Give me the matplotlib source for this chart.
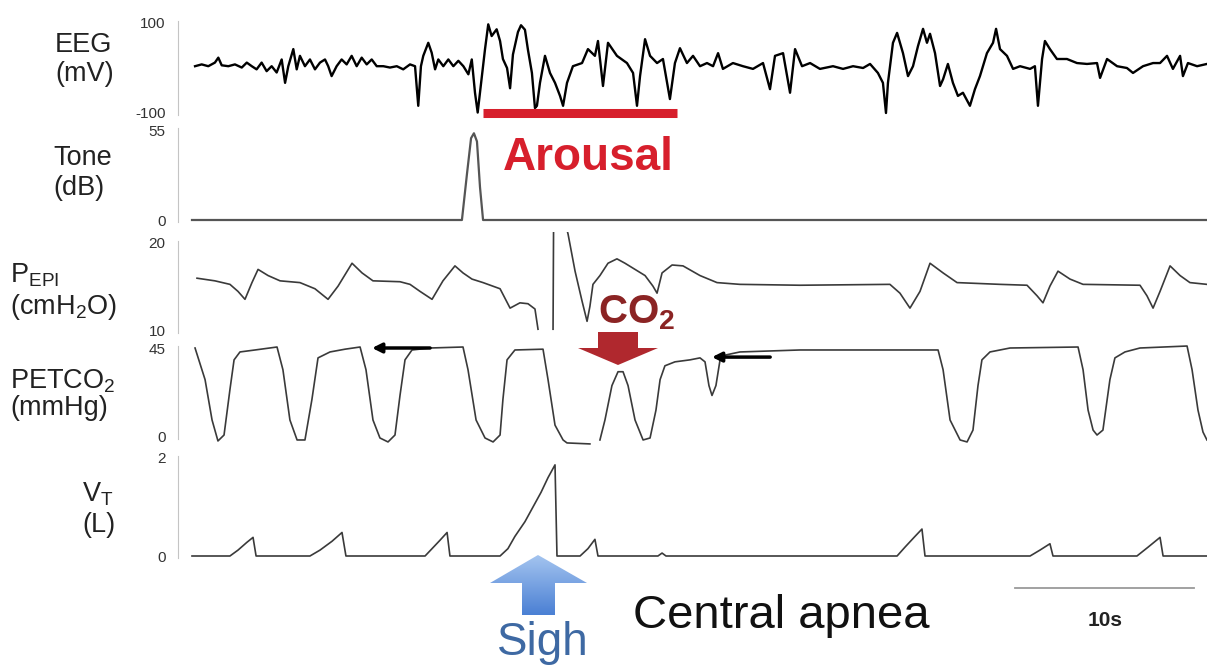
import numpy as np
import matplotlib.pyplot as plt
from matplotlib.patches import Polygon
from matplotlib.colors import LinearSegmentedColormap

plt.rcParams['font.family'] = ['Liberation Sans', 'DejaVu Sans']
plt.rcParams['mathtext.fontset'] = 'custom'
plt.rcParams['mathtext.rm'] = 'Liberation Sans'
plt.rcParams['mathtext.it'] = 'Liberation Sans:italic'
plt.rcParams['mathtext.bf'] = 'Liberation Sans:bold'

# --- traces (time in s) ---
eeg_t = [0.17, 0.54, 0.91, 1.28, 1.47, 1.66, 2.03, 2.40, 2.78, 3.06,
         3.34, 3.61, 3.89, 4.17, 4.45, 4.73, 5.01, 5.20, 5.38, 5.66,
         5.85, 6.03, 6.31, 6.59, 6.87, 7.15, 7.43, 7.61, 7.80, 8.08,
         8.36, 8.64, 8.92, 9.20, 9.48, 9.76, 10.04, 10.32, 10.69, 11.06,
         11.44, 11.80, 12.18, 12.46, 12.64, 12.79, 12.92, 13.20, 13.39, 13.58,
         13.76, 14.04, 14.32, 14.60, 14.88, 15.16, 15.44, 15.63, 15.81, 15.96,
         16.15, 16.37, 16.55, 16.74, 17.02, 17.21, 17.37, 17.60, 17.77, 17.93,
         18.21, 18.38, 18.60, 18.77, 18.99, 19.16, 19.27, 19.44, 19.72, 20.00,
         20.28, 20.56, 20.73, 20.95, 21.28, 21.79, 22.12, 22.51, 22.68, 22.96,
         23.24, 23.74, 24.30, 24.64, 24.86, 25.03, 25.31, 25.59, 25.98, 26.31,
         26.70, 26.98, 27.26, 27.65, 27.99, 28.38, 28.77, 29.11, 29.39, 29.66,
         30.22, 30.78, 31.34, 31.90, 32.29, 32.57, 33.02, 33.41, 33.69, 34.08,
         34.53, 35.08, 35.81, 36.37, 36.93, 37.49, 37.88, 38.32, 38.60, 38.77,
         38.88, 39.16, 39.39, 39.72, 40.00, 40.28, 40.56, 40.84, 41.06, 41.23,
         41.51, 41.79, 41.96, 42.23, 42.51, 42.79, 43.07, 43.46, 43.74, 44.02,
         44.41, 44.75, 44.92, 45.14, 45.53, 45.87, 46.26, 46.82, 47.09, 47.26,
         47.49, 47.65, 47.93, 48.32, 48.88, 49.44, 50.00, 50.56, 50.73, 51.12,
         51.68, 52.23, 52.57, 53.13, 53.69, 54.08, 54.47, 54.80, 55.20, 55.36,
         55.64, 56.15, 56.70]
eeg_mv = [4, 8, 4, 12, 23, 6, 4, 8, 1, 12,
          4, -3, 12, -7, 4, -10, 19, -33, 4, 42,
          -3, 27, 4, 19, -3, 12, 19, 4, -18, 4,
          19, 8, 27, 4, 23, 8, 19, 4, 4, 1,
          4, -3, 8, 4, -84, 4, 27, 56, 34, -3,
          19, 4, 19, 4, 16, 4, -14, 19, -55, -99,
          -33, 42, 97, 71, 86, 60, 20, 0, -45, 30,
          80, 95, 85, 40, -11, -89, -84, -33, 27, -11,
          -33, -62, -84, -33, 4, 11, 42, 27, 60, -40,
          56, 27, 11, -11, -84, -18, 64, 27, 11, 20,
          -69, 11, 44, 11, 27, 4, 11, 4, 33, -2,
          11, 4, -2, 11, -47, 27, 33, -55, 42, 4,
          11, -2, 4, -2, 4, 0, 9, -11, -33, -100,
          -33, 56, 78, 33, -18, 4, 49, 87, 56, 76,
          33, -40, -25, 9, -33, -62, -55, -84, -47, -18,
          33, 56, 87, 42, 27, -2, 4, -2, 4, -84,
          20, 60, 42, 20, 20, 11, 9, 11, -22, 20,
          4, 0, -11, 4, 11, 11, 27, -2, 27, -18,
          11, 4, 9]

tone_t = [0, 15.08, 15.36, 15.59, 15.75, 15.92, 16.09, 16.26, 56.70]
tone_db = [0, 0, 28, 50, 53, 48, 20, 0, 0]

pepi_t = [0.28, 1.28, 2.12, 2.57, 2.96, 3.35, 3.69, 4.25, 4.92, 6.03,
          6.87, 7.60, 8.16, 8.94, 9.50, 10.11, 11.62, 12.18, 12.74, 13.41,
          14.02, 14.69, 15.14, 15.64, 16.26, 17.21, 17.77, 18.32, 18.77, 19.16,
          19.33, 19.72, 20.17, 20.20, 20.89, 21.01, 21.40, 21.79, 22.07, 22.23,
          22.40, 22.79, 23.24, 23.74, 24.19, 24.75, 25.31, 25.75, 25.98, 26.26,
          26.82, 27.43, 28.38, 29.33, 30.61, 33.97, 38.99, 39.55, 40.11, 40.67,
          41.23, 41.96, 42.74, 45.14, 46.65, 47.21, 47.54, 47.93, 48.38, 49.05,
          49.78, 52.96, 53.35, 53.69, 54.08, 54.64, 55.20, 55.75, 56.70]
pepi_cmh2o = [16.0, 15.7, 15.3, 14.5, 13.6, 15.5, 17.0, 16.3, 15.7, 15.5,
              14.8, 13.6, 15.1, 17.7, 16.6, 15.7, 15.6, 15.3, 14.5, 13.6,
              15.7, 17.4, 16.6, 15.9, 15.5, 14.8, 12.6, 13.2, 13.1, 12.5,
              10.2, np.nan, 10.2, 22.0, 22.0, 21.0, 16.8, 13.4, 11.1, 12.8,
              15.3, 16.3, 17.7, 18.2, 17.7, 17.0, 16.3, 15.1, 14.3, 16.6,
              17.5, 17.4, 16.3, 15.5, 15.3, 15.2, 15.3, 14.3, 12.6, 14.5,
              17.7, 16.6, 15.5, 15.3, 15.2, 14.0, 13.2, 15.1, 16.8, 15.9,
              15.3, 15.2, 14.0, 12.6, 14.5, 17.4, 16.3, 15.5, 15.3]

petco2_t = [0.17, 0.73, 1.12, 1.45, 1.79, 2.12, 2.35, 2.68, 3.52, 4.75,
            5.08, 5.47, 5.87, 6.31, 6.70, 7.04, 7.71, 8.55, 9.39, 9.72,
            10.11, 10.50, 10.95, 11.34, 11.62, 11.90, 12.29, 13.30, 15.14, 15.42,
            15.87, 16.37, 16.82, 17.21, 17.37, 17.60, 18.04, 19.61, 19.89, 20.28,
            20.73, 20.95, 22.23, 22.51, 22.79, 23.07, 23.46, 23.80, 24.08, 24.36,
            24.75, 25.20, 25.59, 25.92, 26.15, 26.42, 26.98, 27.82, 28.38, 28.66,
            28.88, 29.05, 29.27, 29.50, 29.78, 30.61, 33.97, 41.68, 41.96, 42.35,
            42.91, 43.30, 43.63, 43.91, 44.13, 44.58, 45.70, 49.50, 49.78, 50.06,
            50.34, 50.56, 50.89, 51.28, 51.56, 52.12, 52.96, 55.59, 55.87, 56.20,
            56.48, 56.70]
petco2_mmhg = [45, 29, 8.6, -2, 1, 24, 39, 43, 44, 45.5,
               34, 8.6, -1.5, -1.5, 19, 40, 43, 44.4, 45.5, 34,
               8.6, -0.5, -2.5, 1, 21, 39, 44, 45, 45.5, 34,
               8.6, -0.5, -2.5, 1, 19, 39, 44, 44.4, 29, 6,
               -1.5, -3, -3.5, np.nan, -1.5, 8.6, 26, 33, 33, 26,
               8.6, -1.5, -0.5, 13.6, 29, 36, 38, 39, 40, 38,
               26, 21, 26, 39, 41.4, 43, 44, 44, 34, 8.6,
               -1.5, -2.5, 3.5, 26, 39, 43, 45, 45.5, 34, 13.6,
               3.5, 1, 3.5, 29, 40, 43, 45, 46, 34, 13.6,
               2.5, -1.5]

vt_t = [0, 2.12, 2.57, 3.07, 3.41, 3.58, 6.59, 7.15, 7.82, 8.38, 8.60,
        13.02, 13.41, 13.85, 14.25, 14.41, 17.21, 17.65, 18.04, 18.60, 19.05,
        19.50, 19.89, 20.28, 20.39, 21.68, 22.12, 22.51, 22.68, 26.03, 26.26,
        26.48, 39.39, 39.83, 40.39, 40.78, 40.95, 46.82, 47.37, 47.93, 48.10,
        52.79, 53.41, 54.08, 54.25, 56.70]
vt_l = [0, 0, 0.12, 0.28, 0.38, 0, 0, 0.12, 0.3, 0.48, 0,
        0, 0.15, 0.32, 0.48, 0, 0, 0.15, 0.4, 0.7, 1.0,
        1.3, 1.6, 1.86, 0, 0, 0.15, 0.34, 0, 0, 0.06,
        0, 0, 0.18, 0.4, 0.55, 0, 0, 0.12, 0.25, 0,
        0, 0.18, 0.38, 0, 0]

arousal_start, arousal_end = 16.26, 27.09
scalebar_start, scalebar_len = 46.0, 10.0

# --- layout (pixels) ---
W, H = 1207, 669
T0_PX = 192        # x pixel of t = 0
SPINE_PX = 178     # vertical scale lines
PX_PER_S = 17.9
T_END = (W - T0_PX) / PX_PER_S

fig = plt.figure(figsize=(W / 100, H / 100), dpi=100)


def trace_axes(top, bottom, hi, y_hi, lo, y_lo, ticklabels):
    ax = fig.add_axes([SPINE_PX / W, 1 - bottom / H, (W - SPINE_PX) / W, (bottom - top) / H])
    per_px = (hi - lo) / (y_lo - y_hi)
    ax.set_ylim(lo - (bottom - y_lo) * per_px, hi + (y_hi - top) * per_px)
    ax.set_xlim(-(T0_PX - SPINE_PX) / PX_PER_S, T_END)
    for side in ('top', 'right', 'bottom'):
        ax.spines[side].set_visible(False)
    ax.spines['left'].set_color('#c4c4c4')
    ax.spines['left'].set_bounds(lo - 2 * per_px, hi + 2 * per_px)
    ax.set_xticks([])
    ax.set_yticks([lo, hi])
    ax.set_yticklabels(ticklabels)
    ax.tick_params(axis='y', length=0, pad=9, labelsize=11, labelcolor='#333333')
    ax.patch.set_visible(False)
    return ax


ax_eeg = trace_axes(18, 118, 100, 23, -100, 113, ['-100', '100'])
ax_tone = trace_axes(126, 224, 55, 130, 0, 220, ['0', '55'])
ax_pepi = trace_axes(232, 336, 20, 243, 10, 331, ['10', '20'])
ax_co2 = trace_axes(343, 447, 45, 348, 0, 437, ['0', '45'])
ax_vt = trace_axes(452, 562, 2, 458, 0, 556, ['0', '2'])

ax_eeg.plot(eeg_t, eeg_mv, color='black', lw=1.7)
ax_tone.plot(tone_t, tone_db, color='#555555', lw=1.6)
ax_pepi.plot(pepi_t, pepi_cmh2o, color='#3a3a3a', lw=1.2)
ax_co2.plot(petco2_t, petco2_mmhg, color='#3a3a3a', lw=1.2)
ax_vt.plot(vt_t, vt_l, color='#3a3a3a', lw=1.2)

RED = '#d71f2c'
ax_eeg.plot([arousal_start, arousal_end], [-100, -100], color=RED, lw=6.5,
            solid_capstyle='butt', clip_on=False)

# breath-hold markers on the CO2 trace
for tail, head, level in [(13.3, 10.06, 45), (32.3, 29.05, 40.4)]:
    ax_co2.annotate('', xy=(head, level), xytext=(tail, level),
                    arrowprops=dict(arrowstyle='-|>', color='black', lw=2.5,
                                    mutation_scale=14, shrinkA=0, shrinkB=0))

# channel names
labels = [('EEG', 55, 45), ('(mV)', 55, 74),
          ('Tone', 53, 158), ('(dB)', 53, 188),
          ('P$_{\\mathrm{EPI}}$', 10, 275), ('(cmH$_2$O)', 10, 307),
          ('PETCO$_2$', 10, 381), ('(mmHg)', 10, 408),
          ('V$_{\\mathrm{T}}$', 82, 494), ('(L)', 82, 525)]
for text, x, y in labels:
    fig.text(x / W, 1 - y / H, text, ha='left', va='center', fontsize=19.5, color='#222222')

# annotation layer in pixel coordinates
ov = fig.add_axes([0, 0, 1, 1])
ov.set_xlim(0, W)
ov.set_ylim(H, 0)
ov.axis('off')

ov.text(588, 170, 'Arousal', color=RED, fontsize=33, fontweight='bold',
        ha='center', va='baseline')

ov.text(598, 323, 'CO$_\\mathbf{2}$', color='#8b2424', fontsize=29, fontweight='bold',
        ha='left', va='baseline')
ov.add_patch(Polygon([(598, 332), (638, 332), (638, 348), (658, 348), (618, 365),
                      (578, 348), (598, 348)], closed=True, facecolor='#b0282e',
                     edgecolor='none'))

sigh = Polygon([(522, 615), (522, 583), (490, 583), (538, 555), (587, 583),
                (555, 583), (555, 615)], closed=True, facecolor='none', edgecolor='none')
ov.add_patch(sigh)
blue = LinearSegmentedColormap.from_list('sigh', ['#a6c6f0', '#4b80d4'])
grad = ov.imshow(np.linspace(0, 1, 64).reshape(-1, 1), cmap=blue, aspect='auto',
                 extent=(488, 590, 615, 553))
grad.set_clip_path(sigh)
ov.set_xlim(0, W)
ov.set_ylim(H, 0)

ov.text(543, 655, 'Sigh', color='#3e69a3', fontsize=33, ha='center', va='baseline')
ov.text(633, 628, 'Central apnea', color='#111111', fontsize=34, ha='left', va='baseline')

bar_x0 = T0_PX + scalebar_start * PX_PER_S
ov.plot([bar_x0, bar_x0 + scalebar_len * PX_PER_S], [588, 588], color='#9a9a9a', lw=1.3)
ov.text(bar_x0 + scalebar_len * PX_PER_S / 2, 621, '10s', fontsize=15, fontweight='bold',
        ha='center', va='center', color='#222222')

fig.savefig('out.png', dpi=100)
